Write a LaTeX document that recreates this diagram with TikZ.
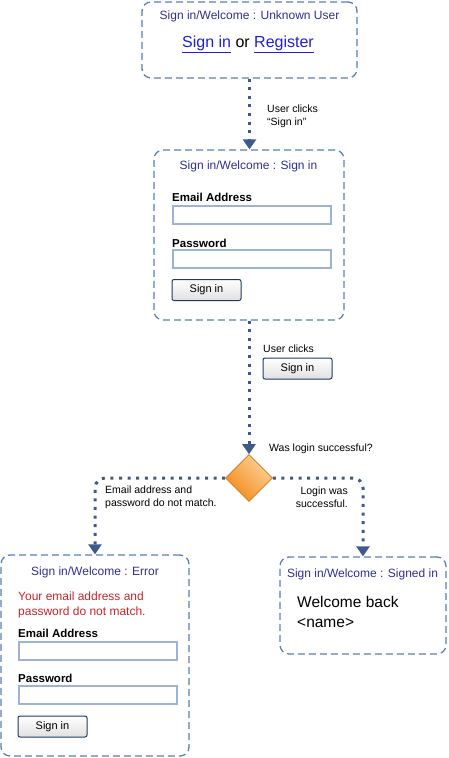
\documentclass[tikz,border=0pt]{standalone}
\usepackage{fontspec}
\setmainfont{Liberation Sans}
\usetikzlibrary{arrows.meta,shapes.geometric}

\definecolor{boxblue}{HTML}{5B7FB8}
\definecolor{titleblue}{HTML}{2E3192}
\definecolor{flowblue}{HTML}{3D5A8A}
\definecolor{linkblue}{HTML}{1F1FDC}
\definecolor{errred}{HTML}{C8262B}
\definecolor{fieldblue}{HTML}{9DB3D3}
\definecolor{btnnavy}{HTML}{1F3B66}
\definecolor{darkorange}{HTML}{F28C1A}
\definecolor{lightorange}{HTML}{FDD09A}

\begin{document}
\begin{tikzpicture}[x=1pt,y=-1pt,
    screen/.style={draw=boxblue, line width=1.3pt, dash pattern=on 7pt off 4pt, rounded corners=9pt, fill=white, inner sep=0pt},
    title/.style={text=titleblue, font=\fontsize{12}{14}\selectfont, inner sep=0pt},
    label/.style={font=\fontsize{11.5}{14}\selectfont\bfseries, anchor=west, inner sep=0pt},
    field/.style={draw=fieldblue, line width=1.3pt, fill=white, minimum width=158pt, minimum height=18pt, inner sep=0pt},
    button/.style={draw=btnnavy, line width=1pt, rounded corners=2pt, top color=white, bottom color=black!12, minimum width=69pt, minimum height=21pt, inner sep=0pt, font=\fontsize{11}{13}\selectfont},
    flow/.style={draw=flowblue, line width=3pt, dash pattern=on 3pt off 5.6pt, -{Triangle[width=13pt,length=10pt]}},
    note/.style={font=\fontsize{10.5}{13}\selectfont, inner sep=0pt, align=left}]
        \useasboundingbox (0,0) rectangle (448,758);

        % Screens
        \node[screen, minimum width=215pt, minimum height=76pt] (unknown) at (249.5,40) {};
        \node[screen, minimum width=190pt, minimum height=170pt] (signin) at (249,235) {};
        \node[screen, minimum width=188pt, minimum height=201pt] (error) at (95,655.5) {};
        \node[screen, minimum width=166pt, minimum height=97pt] (signedin) at (363,605.5) {};

        % Decision
        \node[diamond, draw=darkorange!85!black, line width=0.6pt, minimum width=47pt, minimum height=47pt, inner sep=0pt,
            top color=lightorange, bottom color=darkorange, shading angle=-45] (decision) at (249,478) {};

        % Flow arrows
        \draw[flow] (unknown.south) -- (unknown.south |- signin.north);
        \draw[flow] (signin.south) -- (decision.north);
        \draw[flow, rounded corners=10pt] (decision.west) -| (error.north);
        \draw[flow, rounded corners=10pt] (decision.east) -| (signedin.north);

        % Arrow labels
        \node[note, anchor=west] (clicks1) at (267,116.5) {User clicks\\“Sign in”};
        \node[note, anchor=west] (clicks2) at (263,349) {User clicks};
        \node[button] (clickbtn) at (297.5,368.5) {Sign in};
        \node[note, anchor=west] (question) at (269,449) {Was login successful?};
        \node[note, anchor=west] (nomatch) at (105,497.5) {Email address and\\password do not match.};
        \node[note, anchor=east, align=right] (success) at (348,497.5) {Login was\\successful.};

        % Unknown user screen
        \node[title] (unknowntitle) at (249.5,16) {Sign in/Welcome : Unknown User};
        \node[font=\fontsize{16}{19}\selectfont, inner sep=0pt] (links) at (248,44)
            {\textcolor{linkblue}{\underline{Sign in}} or \textcolor{linkblue}{\underline{Register}}};

        % Sign in screen
        \node[title] (signintitle) at (248.5,166) {Sign in/Welcome : Sign in};
        \node[label] (email1) at (172,197) {Email Address};
        \node[field] (emailfield1) at (252,215) {};
        \node[label] (pass1) at (172,243) {Password};
        \node[field] (passfield1) at (252,259) {};
        \node[button] (btn1) at (206.5,290) {Sign in};

        % Error screen
        \node[title] (errortitle) at (95,572) {Sign in/Welcome : Error};
        \node[font=\fontsize{12}{15}\selectfont, text=errred, anchor=west, align=left, inner sep=0pt] (errmsg) at (18,604.5)
            {Your email address and\\password do not match.};
        \node[label] (email2) at (18,633) {Email Address};
        \node[field] (emailfield2) at (98,651) {};
        \node[label] (pass2) at (18,678) {Password};
        \node[field] (passfield2) at (98,695) {};
        \node[button] (btn2) at (52.5,726.5) {Sign in};

        % Signed in screen
        \node[title] (signedtitle) at (362.5,574) {Sign in/Welcome : Signed in};
        \node[font=\fontsize{15.5}{20}\selectfont, anchor=west, align=left, inner sep=0pt] (welcome) at (297,612)
            {Welcome back\\<name>};
    \end{tikzpicture}
\end{document}
